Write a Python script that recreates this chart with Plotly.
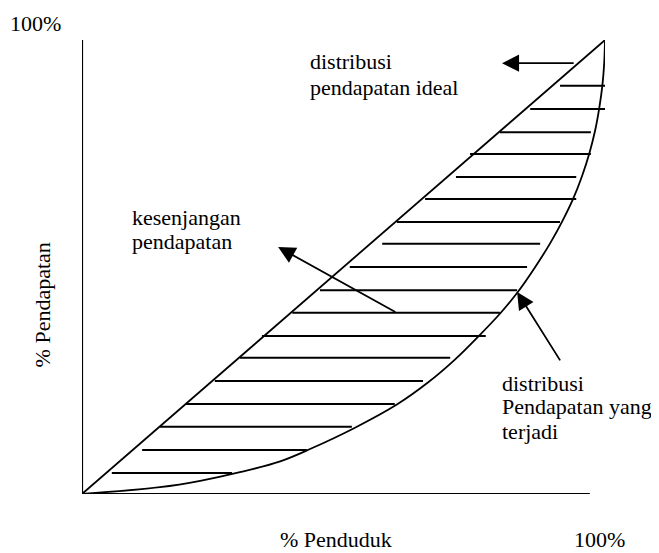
import plotly.graph_objects as go

# ---- data (percent units) ----
axis_x_end = 97.1          # horizontal axis length (% penduduk)
axis_y_end = 100.0         # vertical axis length (% pendapatan)
ideal_x = [0, 100]
ideal_y = [0, 100]

lorenz_x = [0, 14.9, 22.6, 30.2, 37.9, 43.6, 52.2, 60.2, 66.2, 71.3, 75.7, 79.9,
            83.4, 86.6, 89.5, 91.8, 93.9, 95.6, 97.0, 98.1, 98.9, 99.5, 99.85, 100]
lorenz_y = [0, 1.5, 2.9, 4.8, 7.2, 9.9, 14.6, 19.7, 24.6, 29.6, 34.6, 39.7,
            44.6, 49.9, 55.2, 60.0, 65.0, 70.0, 75.0, 80.0, 85.0, 90.0, 95.0, 100]

hatch_y       = [4.6, 9.7, 14.8, 19.8, 24.9, 30.0, 34.8, 39.9, 44.9, 50.0,
                 55.1, 59.9, 65.0, 69.8, 74.9, 79.7, 84.8, 89.9]
hatch_x_start = [5.7, 11.5, 14.9, 19.9, 25.4, 30.2, 34.4, 40.2, 45.5, 51.2,
                 57.4, 60.2, 65.6, 71.5, 74.2, 79.9, 85.7, 91.4]
hatch_x_end   = [28.7, 43.0, 51.6, 59.8, 65.2, 70.4, 77.2, 79.9, 83.2, 85.1,
                 87.6, 91.4, 94.5, 94.5, 97.3, 97.3, 100.2, 100.2]

# arrows: (tail_x, tail_y, tip_x, tip_y)
arrow_ideal  = (94.3, 94.9, 80.3, 94.9)
arrow_gap    = (60.2, 39.9, 37.5, 54.4)
arrow_actual = (91.6, 29.1, 83.2, 44.5)

x_label = "% Penduduk"
y_label = "% Pendapatan"
tick_100 = "100%"
label_ideal = ["distribusi", "pendapatan ideal"]
label_gap = ["kesenjangan", "pendapatan"]
label_actual = ["distribusi", "Pendapatan yang", "terjadi"]

FONT = "Liberation Serif"
FS = 22
LINE = dict(color="black", width=1.8)

fig = go.Figure()

# axes
fig.add_trace(go.Scatter(x=[0, 0, axis_x_end], y=[axis_y_end, 0, 0], mode="lines",
                         line=dict(color="black", width=2.2), hoverinfo="skip"))
# ideal distribution
fig.add_trace(go.Scatter(x=ideal_x, y=ideal_y, mode="lines", line=LINE, hoverinfo="skip"))
# lorenz curve
fig.add_trace(go.Scatter(x=lorenz_x, y=lorenz_y, mode="lines",
                         line=dict(color="black", width=1.8, shape="spline", smoothing=1.0),
                         hoverinfo="skip"))
# hatching
hx, hy = [], []
for y, xs, xe in zip(hatch_y, hatch_x_start, hatch_x_end):
    hx += [xs, xe, None]
    hy += [y, y, None]
fig.add_trace(go.Scatter(x=hx, y=hy, mode="lines", line=dict(color="black", width=2),
                         hoverinfo="skip"))

annotations = []
for (tx, ty, hx_, hy_) in (arrow_ideal, arrow_gap, arrow_actual):
    annotations.append(dict(x=hx_, y=hy_, ax=tx, ay=ty, xref="x", yref="y",
                            axref="x", ayref="y", text="", showarrow=True,
                            arrowhead=2, arrowsize=1.9, arrowwidth=1.8,
                            arrowcolor="black", standoff=0, startstandoff=0))

def txt(s, x, y, xanchor="left", yanchor="middle", angle=0):
    # x, y given in percent of the plotting frame (paper units * 100)
    annotations.append(dict(text=s, x=x / 100, y=y / 100, xref="paper", yref="paper",
                            showarrow=False, xanchor=xanchor, yanchor=yanchor,
                            textangle=angle,
                            font=dict(family=FONT, size=FS, color="black")))

txt(tick_100, -14.1, 106.9, yanchor="top")
txt(label_ideal[0], 43.2, 95.2)
txt(label_ideal[1], 43.2, 89.6)
txt(label_gap[0], 9.2, 60.8)
txt(label_gap[1], 9.2, 55.7)
txt(label_actual[0], 79.9, 24.4)
txt(label_actual[1], 79.9, 19.2)
txt(label_actual[2], 79.9, 13.7)
txt(x_label, 48.6, -10.1, xanchor="center")
txt(tick_100, 99.0, -10.1, xanchor="center")
txt(y_label, -7.6, 41.6, xanchor="center", angle=-90)

fig.update_layout(
    width=659, height=553,
    margin=dict(l=74, r=62, t=32, b=67, autoexpand=False),
    paper_bgcolor="white", plot_bgcolor="white",
    showlegend=False,
    xaxis=dict(range=[0, 100], visible=False, fixedrange=True),
    yaxis=dict(range=[0, 100], visible=False, fixedrange=True),
    annotations=annotations,
)
fig.write_html("out.html")
